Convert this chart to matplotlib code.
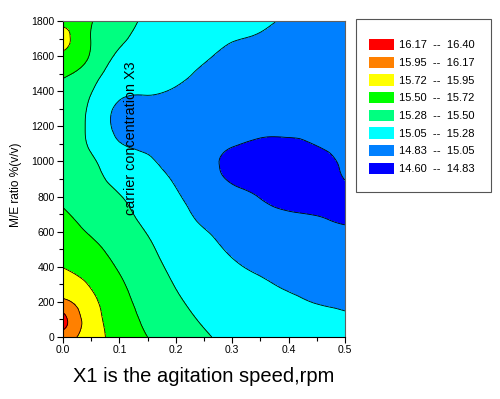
import numpy as np
import matplotlib
matplotlib.use("Agg")
import matplotlib.pyplot as plt
import matplotlib.tri as mtri
from matplotlib.patches import Patch, Rectangle
from matplotlib.ticker import MultipleLocator, FormatStrFormatter

plt.rcParams['font.family'] = ['Liberation Sans', 'DejaVu Sans']

# grid (agitation speed X1, M/E ratio)
x_vals = [0.0, 0.05, 0.10, 0.15, 0.20, 0.25, 0.30, 0.35, 0.40, 0.45, 0.50]
y_vals = [0, 100, 200, 300, 400, 500, 600, 700, 800, 900, 1000,
          1100, 1200, 1300, 1400, 1500, 1600, 1700, 1800]

# response values per X1 column (bottom -> top)
z_x000 = [16.05, 16.25, 15.99, 15.84, 15.715, 15.64, 15.58, 15.52, 15.47, 15.44, 15.41, 15.40, 15.40, 15.43, 15.46, 15.53, 15.66, 15.82, 15.64]
z_x005 = [15.83, 15.83, 15.78, 15.70, 15.62, 15.55, 15.48, 15.43, 15.38, 15.34, 15.31, 15.25, 15.23, 15.24, 15.29, 15.38, 15.48, 15.495, 15.51]
z_x010 = [15.62, 15.60, 15.57, 15.53, 15.48, 15.43, 15.38, 15.34, 15.29, 15.22, 15.15, 15.06, 15.00, 15.01, 15.10, 15.17, 15.24, 15.32, 15.36]
z_x015 = [15.50, 15.465, 15.43, 15.395, 15.355, 15.315, 15.27, 15.22, 15.17, 15.12, 15.07, 15.02, 14.98, 14.99, 15.07, 15.13, 15.18, 15.21, 15.25]
z_x020 = [15.39, 15.35, 15.31, 15.27, 15.23, 15.19, 15.15, 15.11, 15.07, 15.03, 14.98, 14.94, 14.93, 14.96, 15.03, 15.09, 15.13, 15.17, 15.20]
z_x025 = [15.30, 15.26, 15.22, 15.18, 15.14, 15.10, 15.06, 15.01, 14.97, 14.92, 14.88, 14.86, 14.88, 14.93, 14.99, 15.03, 15.07, 15.12, 15.15]
z_x030 = [15.23, 15.19, 15.15, 15.11, 15.07, 15.03, 14.99, 14.94, 14.88, 14.81, 14.79, 14.84, 14.88, 14.94, 14.98, 15.01, 15.02, 15.06, 15.10]
z_x035 = [15.18, 15.145, 15.11, 15.07, 15.025, 14.975, 14.92, 14.87, 14.825, 14.77, 14.74, 14.80, 14.88, 14.93, 14.96, 14.99, 15.02, 15.04, 15.07]
z_x040 = [15.15, 15.11, 15.075, 15.03, 14.985, 14.935, 14.89, 14.84, 14.78, 14.72, 14.70, 14.79, 14.88, 14.92, 14.95, 14.97, 14.99, 15.01, 15.035]
z_x045 = [15.13, 15.09, 15.045, 15.005, 14.96, 14.915, 14.87, 14.825, 14.77, 14.73, 14.75, 14.84, 14.89, 14.93, 14.95, 14.97, 14.98, 15.00, 15.01]
z_x050 = [15.12, 15.07, 15.03, 14.99, 14.945, 14.90, 14.85, 14.80, 14.77, 14.835, 14.87, 14.90, 14.92, 14.94, 14.95, 14.97, 14.98, 14.99, 15.00]

levels = [14.60, 14.83, 15.05, 15.28, 15.50, 15.72, 15.95, 16.17, 16.40]
level_colors = ['#0000FF', '#0080FF', '#00FFFF', '#00FF80',
                '#00FF00', '#FFFF00', '#FF8000', '#FF0000']
level_labels = ['14.60  --  14.83', '14.83  --  15.05', '15.05  --  15.28',
                '15.28  --  15.50', '15.50  --  15.72', '15.72  --  15.95',
                '15.95  --  16.17', '16.17  --  16.40']

Z = np.column_stack([z_x000, z_x005, z_x010, z_x015, z_x020, z_x025,
                     z_x030, z_x035, z_x040, z_x045, z_x050])
nx, ny = len(x_vals), len(y_vals)

# triangulate the grid in index space (isotropic), let matplotlib refine smoothly
ii, jj = np.meshgrid(np.arange(nx), np.arange(ny))
tris = []
for j in range(ny - 1):
    for i in range(nx - 1):
        a = j * nx + i
        b = a + 1
        c = a + nx
        d = c + 1
        tris.append([a, b, d])
        tris.append([a, d, c])
tri_idx = mtri.Triangulation(ii.ravel().astype(float), jj.ravel().astype(float), np.array(tris))
interp = mtri.CubicTriInterpolator(tri_idx, Z.ravel(), kind='min_E')
refiner = mtri.UniformTriRefiner(tri_idx)
tri_ref, z_ref = refiner.refine_field(Z.ravel(), triinterpolator=interp, subdiv=3)
xs = np.interp(tri_ref.x, np.arange(nx), x_vals)
ys = np.interp(tri_ref.y, np.arange(ny), y_vals)
tri_plot = mtri.Triangulation(xs, ys, tri_ref.triangles)

fig = plt.figure(figsize=(5.0, 3.99), dpi=100)
ax = fig.add_axes([0.126, 0.1554, 0.564, 0.792])

ax.tricontourf(tri_plot, z_ref, levels=levels, colors=level_colors, extend='neither')
ax.tricontour(tri_plot, z_ref, levels=levels[1:-1], colors='black', linewidths=0.6)

ax.set_xlim(0, 0.5)
ax.set_ylim(0, 1800)
ax.xaxis.set_major_locator(MultipleLocator(0.1))
ax.xaxis.set_minor_locator(MultipleLocator(0.05))
ax.yaxis.set_major_locator(MultipleLocator(200))
ax.yaxis.set_minor_locator(MultipleLocator(100))
ax.xaxis.set_major_formatter(FormatStrFormatter('%.1f'))
ax.tick_params(which='major', direction='out', length=4, width=0.8, labelsize=7.5, pad=2)
ax.tick_params(which='minor', direction='out', length=3, width=0.8)
ax.tick_params(top=False, right=False)
for s in ['top', 'right']:
    ax.spines[s].set_color('#606060')
    ax.spines[s].set_linewidth(0.8)
for s in ['left', 'bottom']:
    ax.spines[s].set_color('black')
    ax.spines[s].set_linewidth(0.8)

ax.set_xlabel('X1 is the agitation speed,rpm', fontsize=14.5)
ax.xaxis.set_label_coords(0.5, -0.095)
ax.set_ylabel('M/E ratio %(v/v)', fontsize=8.6)
ax.yaxis.set_label_coords(-0.145, 0.483)

ax.text(0.1206, 1131, 'carrier concentration X3', rotation=90,
        ha='center', va='center', fontsize=10.4)

# legend box
fig.patches.append(Rectangle((0.712, 0.5188), 0.27, 0.4336, transform=fig.transFigure,
                             facecolor='white', edgecolor='#555555', linewidth=0.8))
handles = [Patch(facecolor=c, edgecolor='none') for c in level_colors[::-1]]
fig.legend(handles, level_labels[::-1], loc='center', bbox_to_anchor=(0.843, 0.733),
           frameon=False, fontsize=8, borderpad=0, borderaxespad=0,
           handlelength=2.25, handleheight=1.2, handletextpad=0.45, labelspacing=0.56)

fig.savefig('out.png', dpi=100)
